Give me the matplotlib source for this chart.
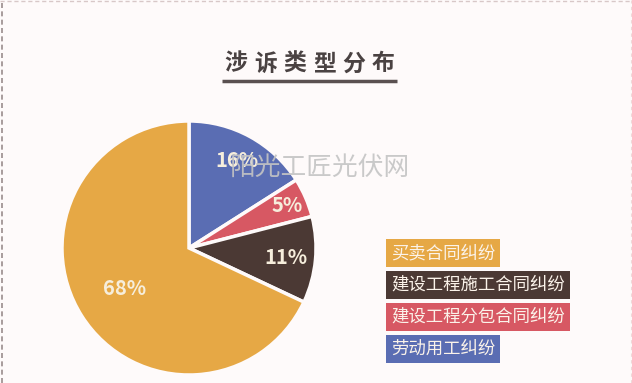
import matplotlib
matplotlib.use('Agg')
import matplotlib.pyplot as plt
import numpy as np

plt.rcParams['font.family'] = ['Noto Sans CJK SC', 'DejaVu Sans']

# 数据
title = '涉诉类型分布'
categories = ['劳动用工纠纷', '建设工程分包合同纠纷', '建设工程施工合同纠纷', '买卖合同纠纷']
shares = [16, 5, 11, 68]
colors = ['#5a6db3', '#d75863', '#4b3934', '#e6a845']
legend_order = [3, 2, 1, 0]  # 图例从上到下
watermark = '阳光工匠光伏网'

W, H = 632, 383
fig = plt.figure(figsize=(W / 100, H / 100), dpi=100)
fig.patch.set_facecolor('#fefafa')
ax = fig.add_axes([0, 0, 1, 1])
ax.set_xlim(0, W)
ax.set_ylim(0, H)
ax.set_aspect('equal')
ax.axis('off')

# 虚线边框
ax.plot([1.5, 1.5], [0, H], ls=(0, (3, 2)), color='#9a8c8c', lw=1.2)
ax.plot([0, W], [H - 1, H - 1], ls=(0, (3, 2)), color='#d8c8c8', lw=1.0)
ax.plot([W - 1.5, W - 1.5], [0, H], ls=(0, (3, 3)), color='#f0d8d8', lw=0.8)

# 标题
x0, step = 236, 29.5
for i, ch in enumerate(title):
    ax.text(x0 + i * step, H - 64, ch, ha='center', va='center', fontsize=16.5,
            fontweight='bold', color='#4a4242')
ax.plot([222, 397], [H - 80.5, H - 80.5], color='#5a5050', lw=2.5, solid_capstyle='butt')

# 饼图
cx, cy, R = 189, H - 248, 127
explode = [0.02, 0.03, 0.02, 0]
wedges, texts = ax.pie(
    shares, colors=colors, startangle=90, counterclock=False,
    center=(cx, cy), radius=R, explode=explode,
    wedgeprops=dict(edgecolor='#fefafa', linewidth=2.5))
ax.set_xlim(0, W)
ax.set_ylim(0, H)

# 百分比标签
label_dist = [0.79, 0.84, 0.77, 0.6]
for w, v, d in zip(wedges, shares, label_dist):
    ang = np.deg2rad((w.theta1 + w.theta2) / 2)
    ax.text(cx + d * R * np.cos(ang), cy + d * R * np.sin(ang), f'{v}%',
            ha='center', va='center', color='#f6eedc', fontsize=14.5,
            fontweight='bold')

# 水印
ax.text(320, H - 168, watermark, ha='center', va='center', fontsize=18.5,
        color='#c4c4c4', alpha=0.9)

# 图例
ys = [253, 285, 317, 349]
for y, idx in zip(ys, legend_order):
    ax.text(391, H - y, categories[idx], ha='left', va='center', fontsize=12.5,
            color='#fbf3ea',
            bbox=dict(boxstyle='square,pad=0.3', fc=colors[idx], ec='none'))

fig.savefig('out.png', dpi=100, facecolor=fig.get_facecolor())
